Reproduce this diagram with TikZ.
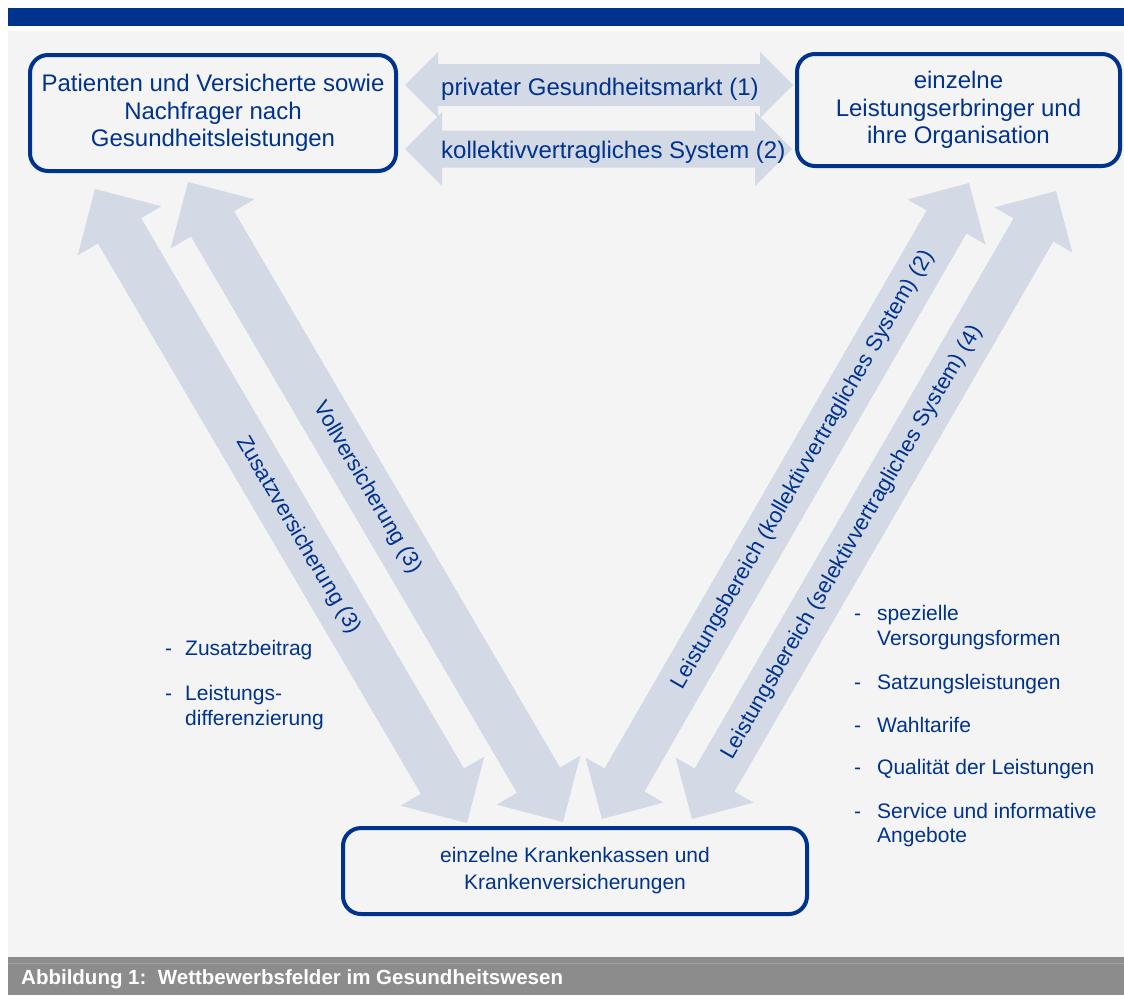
\documentclass[tikz,border=0pt]{standalone}
\usepackage{fontspec}
\setmainfont{Liberation Sans}
\usetikzlibrary{calc}
\definecolor{dblue}{RGB}{0,51,141}
\definecolor{afill}{RGB}{211,217,229}
\definecolor{bggray}{RGB}{244,244,244}
\definecolor{capgray}{RGB}{140,140,140}
\definecolor{capline}{RGB}{160,160,160}
\newcommand{\fatarrow}[5]{%
 \fill[arrowfill] (#1)
  -- ($(#1)!#5pt!(#2)!#4pt!90:(#2)$)
  -- ($(#1)!#5pt!(#2)!#3pt!90:(#2)$)
  -- ($(#2)!#5pt!(#1)!#3pt!-90:(#1)$)
  -- ($(#2)!#5pt!(#1)!#4pt!-90:(#1)$)
  -- (#2)
  -- ($(#2)!#5pt!(#1)!#4pt!90:(#1)$)
  -- ($(#2)!#5pt!(#1)!#3pt!90:(#1)$)
  -- ($(#1)!#5pt!(#2)!#3pt!-90:(#2)$)
  -- ($(#1)!#5pt!(#2)!#4pt!-90:(#2)$)
  -- cycle;}
\tikzset{
  arrowfill/.style={fill=afill},
  mainbox/.style={draw=dblue, line width=4pt, rounded corners=18pt, text=dblue, align=center, inner sep=0pt},
  bigtext/.style={text=dblue, font=\fontsize{24}{27.5}\selectfont, inner sep=0pt},
  midtext/.style={text=dblue, font=\fontsize{22}{26}\selectfont, inner sep=0pt},
  listtext/.style={text=dblue, font=\fontsize{21}{25}\selectfont, inner sep=0pt, anchor=base west},
}
\begin{document}
\begin{tikzpicture}[x=1pt,y=-1pt]
\useasboundingbox (0,0) rectangle (1124,999);
\fill[white] (0,0) rectangle (1124,999);
\fill[dblue] (8,8) rectangle (1124,26);
\fill[bggray] (8,31) rectangle (1124,957);
\fill[capgray] (8,957) rectangle (1124,995);
\draw[capline, line width=1pt] (8,963) -- (1124,963);
\node[white, font=\bfseries\fontsize{20.5}{24}\selectfont, anchor=base west, inner sep=0pt] (cap) at (21,984) {Abbildung 1:\ \ Wettbewerbsfelder im Gesundheitswesen};

% arrow end points
\coordinate (h1l) at (405,85);  \coordinate (h1r) at (793,85);
\coordinate (h2l) at (405,149); \coordinate (h2r) at (792,149);
\coordinate (d1t) at (95,189);  \coordinate (d1b) at (467,823);
\coordinate (d2t) at (188,182); \coordinate (d2b) at (563,822);
\coordinate (d3b) at (602,819); \coordinate (d3t) at (969,183);
\coordinate (d4b) at (692,819); \coordinate (d4t) at (1056,191);

\fatarrow{h1l}{h1r}{21}{33}{33}
\fatarrow{h2l}{h2r}{18.5}{37}{37}
\fatarrow{d1t}{d1b}{25}{48.5}{48.5}
\fatarrow{d2t}{d2b}{25}{48.5}{48.5}
\fatarrow{d3b}{d3t}{23}{45}{45}
\fatarrow{d4b}{d4t}{23}{45}{45}

% boxes
\node[mainbox, minimum width=366pt, minimum height=116pt, font=\fontsize{24}{27.5}\selectfont] (pat) at (213,113)
  {Patienten und Versicherte sowie\\Nachfrager nach\\Gesundheitsleistungen};
\node[mainbox, minimum width=323pt, minimum height=112pt, font=\fontsize{24}{27.5}\selectfont] (leist) at (958.5,110)
  {einzelne\\Leistungserbringer und\\ihre Organisation};
\node[mainbox, minimum width=464pt, minimum height=86pt, font=\fontsize{21}{27}\selectfont] (kk) at (575,871)
  {einzelne Krankenkassen und\\Krankenversicherungen};

% horizontal arrow labels
\node[bigtext, anchor=base west] (t1) at (441,95) {privater Gesundheitsmarkt (1)};
\node[bigtext, anchor=base west] (t2) at (441,158) {kollektivvertragliches System (2)};

% diagonal labels
\path (d1t) -- (d1b) node[midtext, sloped, pos=0.546] (t3) {Zusatzversicherung (3)};
\path (d2t) -- (d2b) node[midtext, sloped, pos=0.478] (t4) {Vollversicherung (3)};
\path (d3b) -- (d3t) node[midtext, sloped, pos=0.549] (t5) {Leistungsbereich (kollektivvertragliches System) (2)};
\path (d4b) -- (d4t) node[midtext, sloped, pos=0.44] (t6) {Leistungsbereich (selektivvertragliches System) (4)};

% left list
\node[listtext] (ld1) at (165,655) {-};
\node[listtext] (l1) at (185,655) {Zusatzbeitrag};
\node[listtext] (ld2) at (165,700) {-};
\node[listtext] (l2) at (185,700) {Leistungs-};
\node[listtext] (l2b) at (185,725) {differenzierung};

% right list
\node[listtext] (rd1) at (854,620) {-};
\node[listtext] (r1) at (877,620) {spezielle};
\node[listtext] (r1b) at (877,645) {Versorgungsformen};
\node[listtext] (rd2) at (854,689) {-};
\node[listtext] (r2) at (877,689) {Satzungsleistungen};
\node[listtext] (rd3) at (854,732) {-};
\node[listtext] (r3) at (877,732) {Wahltarife};
\node[listtext] (rd4) at (854,774) {-};
\node[listtext] (r4) at (877,774) {Qualität der Leistungen};
\node[listtext] (rd5) at (854,818) {-};
\node[listtext] (r5) at (877,818) {Service und informative};
\node[listtext] (r5b) at (877,842) {Angebote};
\end{tikzpicture}
\end{document}
